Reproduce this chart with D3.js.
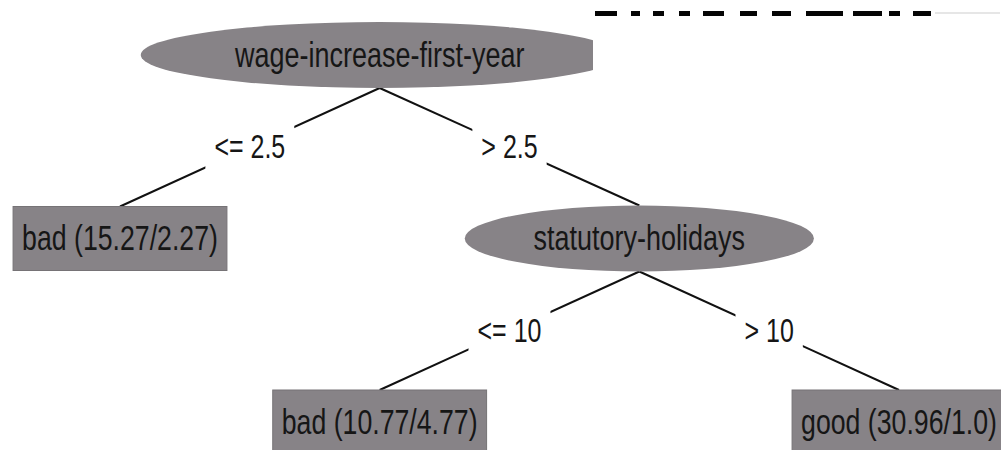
<!DOCTYPE html>
<html>
<head>
<meta charset="utf-8">
<script src="https://cdn.jsdelivr.net/npm/d3@7"></script>
<style>
  body { margin: 0; background: #fff; }
  svg { display: block; }
</style>
</head>
<body>
<svg id="tree" width="1001" height="450"></svg>
<script>
// J48 tree (labor data), one entry per node
const nodeIds = ['n0', 'n1', 'n2', 'n3', 'n4']
const nodeParents = [null, 'n0', 'n0', 'n2', 'n2']
const nodeLabels = [
  'wage-increase-first-year',
  'bad (15.27/2.27)',
  'statutory-holidays',
  'bad (10.77/4.77)',
  'good (30.96/1.0)'
]
const nodeKinds = ['split', 'leaf', 'split', 'leaf', 'leaf']
const edgeLabels = [null, '<= 2.5', '> 2.5', '<= 10', '> 10']

const width = 1001
const height = 450
const svg = d3.select('#tree')

const fill = '#878387'
const sy = 1.32 // text in the picture is stretched vertically

const rows = nodeIds.map((id, i) => ({
  id: id,
  parent: nodeParents[i],
  label: nodeLabels[i],
  kind: nodeKinds[i],
  edge: edgeLabels[i]
}))

const root = d3.stratify().id(d => d.id).parentId(d => d.parent)(rows)
d3.tree().nodeSize([1, 1])(root)
const nodes = root.descendants()

const xScale = d3.scaleLinear()
  .domain(d3.extent(nodes, d => d.x))
  .range([120, 899])
const yScale = d3.scaleLinear()
  .domain([0, root.height])
  .range([55, 422])

const ellipseRy = 33
const boxH = 64

// work out text widths first so shapes can be sized round them
const measure = svg.append('g')
nodes.forEach(d => {
  d.fs = d.data.kind === 'split' ? 27 : 26.7
  const t = measure.append('text')
    .attr('font-family', 'Liberation Sans, Arial, sans-serif')
    .attr('font-size', d.fs)
    .text(d.data.label)
  d.tw = t.node().getComputedTextLength()
  d.cx = xScale(d.x)
  d.cy = yScale(d.depth)
  if (d.data.kind === 'split') {
    d.rx = d.tw * 0.825
    d.top = d.cy - ellipseRy
    d.bottom = d.cy + ellipseRy
  } else {
    d.bw = d.tw + 18
    d.top = d.cy - boxH / 2
    d.bottom = d.cy + boxH / 2
  }
})
measure.remove()

function addText(g, str, x, cy, fs) {
  g.append('text')
    .attr('transform', 'translate(' + x + ',' + (cy + 0.33 * fs * sy) + ') scale(1,' + sy + ')')
    .attr('text-anchor', 'middle')
    .attr('font-family', 'Liberation Sans, Arial, sans-serif')
    .attr('font-size', fs)
    .attr('fill', '#161616')
    .text(str)
}

// edges
const links = root.links()
svg.append('g')
  .selectAll('line')
  .data(links)
  .enter()
  .append('line')
  .attr('x1', d => d.source.cx)
  .attr('y1', d => d.source.bottom)
  .attr('x2', d => d.target.cx)
  .attr('y2', d => d.target.top)
  .attr('stroke', '#111')
  .attr('stroke-width', 2)

// edge labels, on white so the line breaks around them
const edgeG = svg.append('g')
links.forEach(l => {
  const mx = (l.source.cx + l.target.cx) / 2
  const my = (l.source.bottom + l.target.top) / 2
  const fs = 25
  const g = edgeG.append('g')
  const t = g.append('text')
    .attr('font-family', 'Liberation Sans, Arial, sans-serif')
    .attr('font-size', fs)
    .text(l.target.data.edge)
  const w = t.node().getComputedTextLength()
  t.remove()
  g.append('rect')
    .attr('x', mx - w / 2 - 9)
    .attr('y', my - 22)
    .attr('width', w + 18)
    .attr('height', 44)
    .attr('fill', '#fff')
  addText(g, l.target.data.edge, mx, my, fs)
})

// nodes
const nodeG = svg.append('g')
  .selectAll('g')
  .data(nodes)
  .enter()
  .append('g')

nodeG.filter(d => d.data.kind === 'split')
  .append('ellipse')
  .attr('cx', d => d.cx)
  .attr('cy', d => d.cy)
  .attr('rx', d => d.rx)
  .attr('ry', ellipseRy)
  .attr('fill', fill)

nodeG.filter(d => d.data.kind === 'leaf')
  .append('rect')
  .attr('x', d => d.cx - d.bw / 2)
  .attr('y', d => d.top)
  .attr('width', d => d.bw)
  .attr('height', boxH)
  .attr('fill', fill)
  .attr('stroke', '#767376')
  .attr('stroke-width', 1)

nodeG.each(function(d) {
  addText(d3.select(this), d.data.label, d.cx, d.cy, d.fs)
})

// pasted-over corner of the screenshot: white patch with the cut-off
// bottom of some heading showing along its top
const cover = svg.append('g')
cover.append('rect')
  .attr('x', 593).attr('y', 16)
  .attr('width', width - 593).attr('height', 89)
  .attr('fill', '#fff')
const stubs = [[595, 617], [631, 640], [653, 664], [679, 690], [703, 724],
  [740, 757], [772, 791], [806, 843], [853, 882], [889, 900], [913, 931]]
cover.selectAll('.stub')
  .data(stubs)
  .enter()
  .append('rect')
  .attr('class', 'stub')
  .attr('x', d => d[0])
  .attr('y', 11)
  .attr('width', d => d[1] - d[0])
  .attr('height', 5)
  .attr('fill', '#050505')
cover.append('line')
  .attr('x1', 935).attr('x2', 1000)
  .attr('y1', 13).attr('y2', 13)
  .attr('stroke', '#e6e6e6')
  .attr('stroke-width', 2)
</script>
</body>
</html>
